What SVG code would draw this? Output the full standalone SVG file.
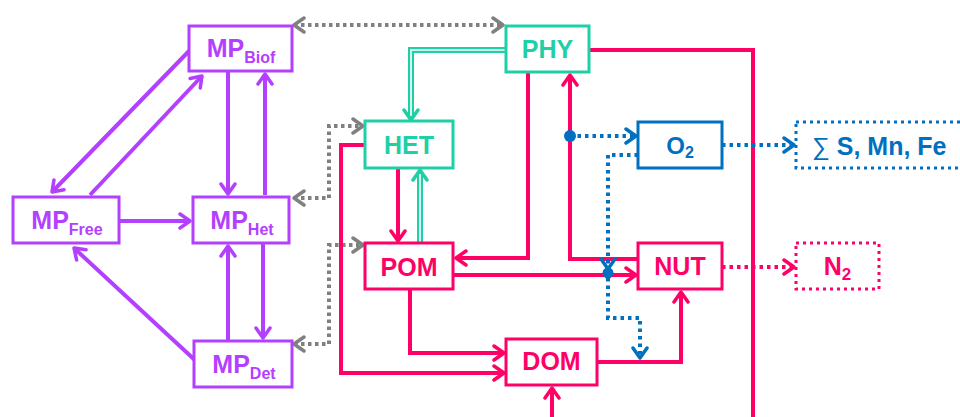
<svg xmlns="http://www.w3.org/2000/svg" width="960" height="417" viewBox="0 0 960 417">
<style>
.t{font-family:"Liberation Sans",Arial,sans-serif;font-weight:bold;text-anchor:middle}
.pu{fill:#B340FF}.tl{fill:#1FCFA6}.pk{fill:#FF0066}.bl{fill:#0070C0}
.bp{fill:#fff;stroke:#B340FF;stroke-width:3}
.bt{fill:#fff;stroke:#1FCFA6;stroke-width:3}
.bk{fill:#fff;stroke:#FF0066;stroke-width:3}
.bb{fill:#fff;stroke:#0070C0;stroke-width:3}
.bbd{fill:#fff;stroke:#0070C0;stroke-width:3;stroke-dasharray:3 4}
.bkd{fill:#fff;stroke:#FF0066;stroke-width:3;stroke-dasharray:3 4}
.cp{fill:none;stroke:#B340FF;stroke-width:4}
.ck{fill:none;stroke:#FF0066;stroke-width:4}
.cg{fill:none;stroke:#808080;stroke-width:4;stroke-dasharray:3.5 3.5}
.cb{fill:none;stroke:#0070C0;stroke-width:4;stroke-dasharray:3.5 4}
.ckd{fill:none;stroke:#FF0066;stroke-width:4;stroke-dasharray:3.5 4}
.ct{fill:none;stroke:#1FCFA6;stroke-width:6}
.ctw{fill:none;stroke:#fff;stroke-width:1.6}
</style>
<defs>
<marker id="ap" viewBox="0 0 14 18" refX="12" refY="9" markerWidth="14" markerHeight="18" markerUnits="userSpaceOnUse" orient="auto"><path d="M2,2 L12,9 L2,16" fill="none" stroke="#B340FF" stroke-width="3.5" stroke-linecap="round" stroke-linejoin="round"/></marker>
<marker id="ak" viewBox="0 0 14 18" refX="12" refY="9" markerWidth="14" markerHeight="18" markerUnits="userSpaceOnUse" orient="auto"><path d="M2,2 L12,9 L2,16" fill="none" stroke="#FF0066" stroke-width="3.5" stroke-linecap="round" stroke-linejoin="round"/></marker>
<marker id="ag" viewBox="0 0 14 18" refX="12" refY="9" markerWidth="14" markerHeight="18" markerUnits="userSpaceOnUse" orient="auto-start-reverse"><path d="M2,2 L12,9 L2,16" fill="none" stroke="#808080" stroke-width="3.5" stroke-linecap="round" stroke-linejoin="round"/></marker>
<marker id="ab" viewBox="0 0 14 18" refX="12" refY="9" markerWidth="14" markerHeight="18" markerUnits="userSpaceOnUse" orient="auto"><path d="M2,2 L12,9 L2,16" fill="none" stroke="#0070C0" stroke-width="3.5" stroke-linecap="round" stroke-linejoin="round"/></marker>
<marker id="at" viewBox="0 0 14 18" refX="12" refY="9" markerWidth="14" markerHeight="18" markerUnits="userSpaceOnUse" orient="auto"><path d="M2,2 L12,9 L2,16" fill="none" stroke="#1FCFA6" stroke-width="3.5" stroke-linecap="round" stroke-linejoin="round"/></marker>
</defs>
<g id="connectors">
<path class="cp" d="M190,50 L52,192" marker-end="url(#ap)"/>
<path class="cp" d="M90,195 L202,76" marker-end="url(#ap)"/>
<path class="cp" d="M228,71 L228,194" marker-end="url(#ap)"/>
<path class="cp" d="M265,195 L265,74" marker-end="url(#ap)"/>
<path class="cp" d="M119,221 L190,221" marker-end="url(#ap)"/>
<path class="cp" d="M197,362 L74,248" marker-end="url(#ap)"/>
<path class="cp" d="M228,341 L228,246" marker-end="url(#ap)"/>
<path class="cp" d="M263,243 L263,338" marker-end="url(#ap)"/>
<path class="cg" d="M294,25 L503,25" marker-start="url(#ag)" marker-end="url(#ag)"/>
<path class="cg" d="M294,198 L329,198 L329,126 L363,126" marker-start="url(#ag)" marker-end="url(#ag)"/>
<path class="cg" d="M294,344 L329,344 L329,245 L363,245" marker-start="url(#ag)" marker-end="url(#ag)"/>
<path class="ct" d="M506,50 L411,50 L411,118"/>
<path class="ctw" d="M506,50 L411,50 L411,116"/>
<path d="M411,104 L411,120" fill="none" stroke="none" marker-end="url(#at)"/>
<path class="ct" d="M420,243 L420,172"/>
<path class="ctw" d="M420,243 L420,174"/>
<path d="M420,186 L420,170" fill="none" stroke="none" marker-end="url(#at)"/>
<path class="ck" d="M398,168 L398,241" marker-end="url(#ak)"/>
<path class="ck" d="M528,72 L528,258 L456,258" marker-end="url(#ak)"/>
<path class="ck" d="M638,259 L570,259 L570,75" marker-end="url(#ak)"/>
<path class="ck" d="M453,275 L636,275" marker-end="url(#ak)"/>
<path class="ck" d="M410,289 L410,353 L504,353" marker-end="url(#ak)"/>
<path class="ck" d="M365,145 L341,145 L341,373 L504,373" marker-end="url(#ak)"/>
<path class="ck" d="M597,362 L681,362 L681,292" marker-end="url(#ak)"/>
<path class="ck" d="M552,417 L552,388" marker-end="url(#ak)"/>
<path class="ck" d="M589,50 L753,50 L753,417"/>
<path class="ckd" d="M722,267 L794,267" marker-end="url(#ak)"/>
<path class="cb" d="M722,145 L794,145" marker-end="url(#ab)"/>
<path class="cb" d="M570,136 L636,136" marker-end="url(#ab)"/>
<path class="cb" d="M638,155 L608,155 L608,269" marker-end="url(#ab)"/>
<path class="cb" d="M608,278 L608,318 L640,318 L640,358" marker-end="url(#ab)"/>
<circle cx="570" cy="136" r="6" fill="#0070C0"/>
<circle cx="608" cy="273" r="5.5" fill="#0070C0"/>
</g>
<g id="MP_Biof"><rect class="bp" x="189" y="26" width="103" height="45"/><text class="t pu" x="241" y="57" font-size="25">MP<tspan font-size="16" dy="6">Biof</tspan></text></g>
<g id="MP_Free"><rect class="bp" x="13" y="197" width="106" height="46"/><text class="t pu" x="67" y="229" font-size="25">MP<tspan font-size="16" dy="6">Free</tspan></text></g>
<g id="MP_Het"><rect class="bp" x="193" y="197" width="96" height="46"/><text class="t pu" x="242" y="229" font-size="25">MP<tspan font-size="16" dy="6">Het</tspan></text></g>
<g id="MP_Det"><rect class="bp" x="194" y="341" width="98" height="46"/><text class="t pu" x="244" y="373" font-size="25">MP<tspan font-size="16" dy="6">Det</tspan></text></g>
<g id="PHY"><rect class="bt" x="506" y="26" width="83" height="46"/><text class="t tl" x="547.5" y="58" font-size="25">PHY</text></g>
<g id="HET"><rect class="bt" x="365" y="121" width="88" height="47"/><text class="t tl" x="409" y="154" font-size="25">HET</text></g>
<g id="POM"><rect class="bk" x="365" y="243" width="88" height="46"/><text class="t pk" x="409" y="276" font-size="25">POM</text></g>
<g id="DOM"><rect class="bk" x="506" y="339" width="91" height="46"/><text class="t pk" x="551.5" y="370" font-size="25">DOM</text></g>
<g id="NUT"><rect class="bk" x="638" y="243" width="84" height="46"/><text class="t pk" x="680" y="275" font-size="25">NUT</text></g>
<g id="O2"><rect class="bb" x="638" y="122" width="84" height="46"/><text class="t bl" x="680" y="154" font-size="24">O<tspan font-size="16" dy="4">2</tspan></text></g>
<g id="SMnFe"><rect class="bbd" x="796" y="122" width="170" height="46"/><text class="t bl" x="812" y="155" font-size="25" style="text-anchor:start"><tspan font-weight="normal">∑</tspan> S, Mn, Fe</text></g>
<g id="N2"><rect class="bkd" x="796" y="243" width="83" height="46"/><text class="t pk" x="837.5" y="275" font-size="25">N<tspan font-size="17" dy="5">2</tspan></text></g>
</svg>
